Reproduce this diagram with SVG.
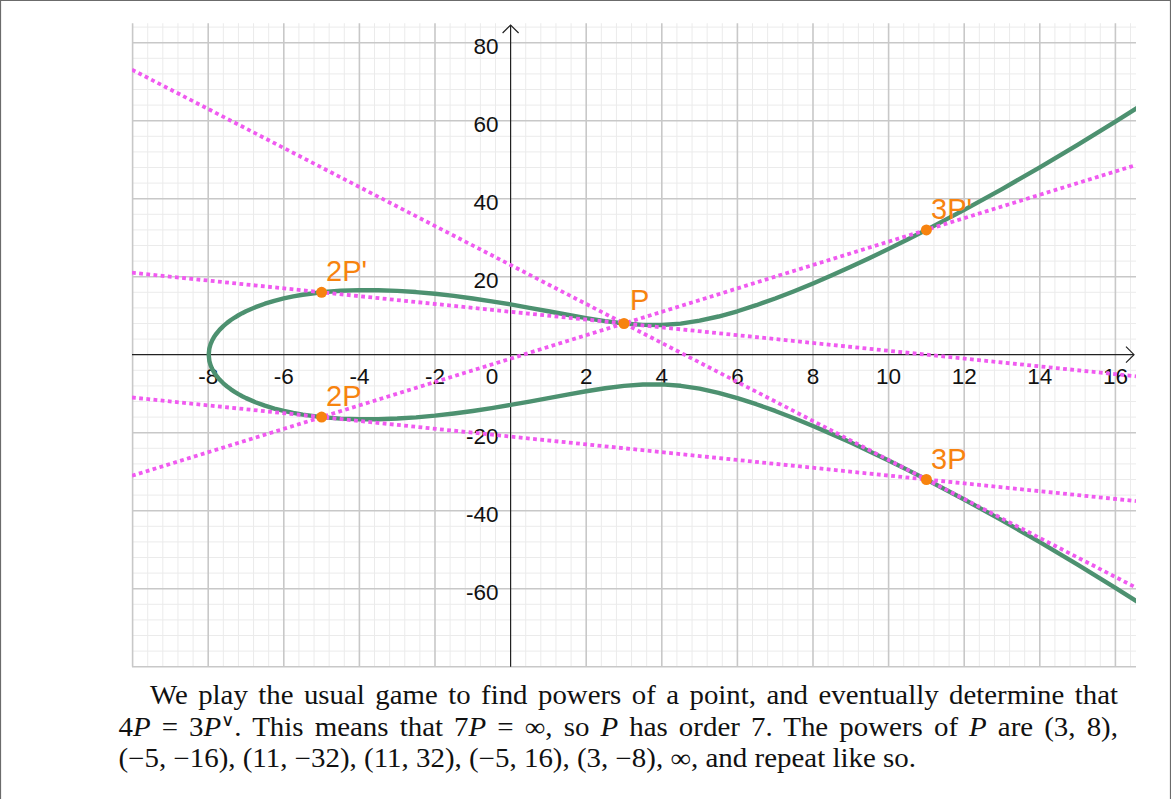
<svg xmlns="http://www.w3.org/2000/svg" width="1171" height="799" viewBox="0 0 1171 799">
<style>
.minor{stroke:#EBEBEB;stroke-width:1;fill:none}
.major{stroke:#C8C8C8;stroke-width:1.6;fill:none}
.axis{stroke:#222;stroke-width:1.2;fill:none}
.tick{font-family:"Liberation Sans",Arial,sans-serif;font-size:22.5px;fill:#111}
.tx{text-anchor:middle}
.ty{text-anchor:end}
.curve{stroke:#4D9170;stroke-width:4.4;fill:none;stroke-linejoin:round;stroke-linecap:round}
.dot{stroke:#F05AF0;stroke-width:3.8;stroke-dasharray:3.8 3.4;fill:none}
.pt{fill:#F7830F}
.plab{font-family:"Liberation Sans",Arial,sans-serif;font-size:29px;fill:#F7830F}
.body{font-family:"Liberation Serif","Times New Roman",serif;font-size:26.5px;fill:#111}
.it{font-style:italic}
</style>
<defs>
<clipPath id="plot"><rect x="132" y="23" width="1004" height="644"/></clipPath>
</defs>
<rect x="0" y="0" width="1171" height="799" fill="#fff"/>
<path d="M0.5 799 V0.5 H1170.5 V799" stroke="#6b6b6b" stroke-width="1.2" fill="none"/>
<g id="grid">
<path class="minor" d="M147.72 23.2V666.7M162.84 23.2V666.7M177.96 23.2V666.7M193.08 23.2V666.7M223.32 23.2V666.7M238.44 23.2V666.7M253.56 23.2V666.7M268.68 23.2V666.7M298.92 23.2V666.7M314.04 23.2V666.7M329.16 23.2V666.7M344.28 23.2V666.7M374.52 23.2V666.7M389.64 23.2V666.7M404.76 23.2V666.7M419.88 23.2V666.7M450.12 23.2V666.7M465.24 23.2V666.7M480.36 23.2V666.7M495.48 23.2V666.7M525.72 23.2V666.7M540.84 23.2V666.7M555.96 23.2V666.7M571.08 23.2V666.7M601.32 23.2V666.7M616.44 23.2V666.7M631.56 23.2V666.7M646.68 23.2V666.7M676.92 23.2V666.7M692.04 23.2V666.7M707.16 23.2V666.7M722.28 23.2V666.7M752.52 23.2V666.7M767.64 23.2V666.7M782.76 23.2V666.7M797.88 23.2V666.7M828.12 23.2V666.7M843.24 23.2V666.7M858.36 23.2V666.7M873.48 23.2V666.7M903.72 23.2V666.7M918.84 23.2V666.7M933.96 23.2V666.7M949.08 23.2V666.7M979.32 23.2V666.7M994.44 23.2V666.7M1009.56 23.2V666.7M1024.68 23.2V666.7M1054.92 23.2V666.7M1070.04 23.2V666.7M1085.16 23.2V666.7M1100.28 23.2V666.7M1130.52 23.2V666.7
M132 27.1H1136M132 58.3H1136M132 73.9H1136M132 89.5H1136M132 105.1H1136M132 136.3H1136M132 151.9H1136M132 167.5H1136M132 183.1H1136M132 214.3H1136M132 229.9H1136M132 245.5H1136M132 261.1H1136M132 292.3H1136M132 307.9H1136M132 323.5H1136M132 339.1H1136M132 370.3H1136M132 385.9H1136M132 401.5H1136M132 417.1H1136M132 448.3H1136M132 463.9H1136M132 479.5H1136M132 495.1H1136M132 526.3H1136M132 541.9H1136M132 557.5H1136M132 573.1H1136M132 604.3H1136M132 619.9H1136M132 635.5H1136M132 651.1H1136"/>
<path class="major" d="M132.6 23.2V666.7M208.2 23.2V666.7M283.8 23.2V666.7M359.4 23.2V666.7M435 23.2V666.7M586.2 23.2V666.7M661.8 23.2V666.7M737.4 23.2V666.7M813 23.2V666.7M888.6 23.2V666.7M964.2 23.2V666.7M1039.8 23.2V666.7M1115.4 23.2V666.7
M132 42.7H1136M132 120.7H1136M132 198.7H1136M132 276.7H1136M132 432.7H1136M132 510.7H1136M132 588.7H1136M132 666.7H1136"/>
</g>
<g id="axes">
<path class="axis" d="M132 354.7H1134M510.6 666.7V25"/>
<path class="axis" d="M1126 346.7L1134 354.7L1126 362.7M502.6 33L510.6 25L518.6 33"/>
<g class="tick tx">
<text x="208.2" y="383.5">-8</text><text x="283.8" y="383.5">-6</text><text x="359.4" y="383.5">-4</text><text x="435" y="383.5">-2</text><text x="492" y="383.5">0</text><text x="586.2" y="383.5">2</text><text x="661.8" y="383.5">4</text><text x="737.4" y="383.5">6</text><text x="813" y="383.5">8</text><text x="888.6" y="383.5">10</text><text x="964.2" y="383.5">12</text><text x="1039.8" y="383.5">14</text><text x="1115.4" y="383.5">16</text>
</g>
<g class="tick ty">
<text x="498.5" y="53.5">80</text><text x="498.5" y="131.5">60</text><text x="498.5" y="209.5">40</text><text x="498.5" y="287.5">20</text><text x="498.5" y="443.5">-20</text><text x="498.5" y="521.5">-40</text><text x="498.5" y="599.5">-60</text>
</g>
</g>
<g id="curve" clip-path="url(#plot)">
<polyline class="curve" vector-effect="non-scaling-stroke" transform="matrix(37.8 0 0 -3.9 510.6 354.7)" points="16.6,63.455 16,59.783 15,53.815 14,48.042 13,42.474 12,37.121 11,32 10.5,29.532 10,27.129 9.5,24.797 9,22.539 8.5,20.362 8,18.276 7.5,16.290 7,14.422 6.5,12.693 6,11.136 5.5,9.792 5,8.718 4.5,7.977 4,7.616 3.5,7.640 3,8 2.5,8.610 2,9.381 1.5,10.241 1,11.136 0.5,12.026 0,12.884 -0.5,13.689 -1,14.422 -1.5,15.071 -2,15.620 -2.5,16.059 -3,16.371 -3.5,16.542 -4,16.553 -4.5,16.382 -5,16 -5.5,15.366 -5.75,14.938 -6,14.422 -6.25,13.806 -6.5,13.072 -6.75,12.194 -7,11.136 -7.1,10.648 -7.2,10.117 -7.3,9.533 -7.4,8.887 -7.5,8.162 -7.6,7.337 -7.7,6.369 -7.8,5.181 -7.85,4.451 -7.9,3.558 -7.94,2.616 -7.97,1.565 -7.9866,0 -7.97,-1.565 -7.94,-2.616 -7.9,-3.558 -7.85,-4.451 -7.8,-5.181 -7.7,-6.369 -7.6,-7.337 -7.5,-8.162 -7.4,-8.887 -7.3,-9.533 -7.2,-10.117 -7.1,-10.648 -7,-11.136 -6.75,-12.194 -6.5,-13.072 -6.25,-13.806 -6,-14.422 -5.75,-14.938 -5.5,-15.366 -5,-16 -4.5,-16.382 -4,-16.553 -3.5,-16.542 -3,-16.371 -2.5,-16.059 -2,-15.620 -1.5,-15.071 -1,-14.422 -0.5,-13.689 0,-12.884 0.5,-12.026 1,-11.136 1.5,-10.241 2,-9.381 2.5,-8.610 3,-8 3.5,-7.640 4,-7.616 4.5,-7.977 5,-8.718 5.5,-9.792 6,-11.136 6.5,-12.693 7,-14.422 7.5,-16.290 8,-18.276 8.5,-20.362 9,-22.539 9.5,-24.797 10,-27.129 10.5,-29.532 11,-32 12,-37.121 13,-42.474 14,-48.042 15,-53.815 16,-59.783 16.6,-63.455"/>
</g>
<g id="connectors" clip-path="url(#plot)">
<line class="dot" x1="132" y1="272.7" x2="1136" y2="376.3"/>
<line class="dot" x1="132" y1="475.8" x2="1136" y2="165.0"/>
<line class="dot" x1="132" y1="69.7" x2="1136" y2="587.6"/>
<line class="dot" x1="132" y1="397.5" x2="1136" y2="501.1"/>
</g>
<g id="P"><circle class="pt" cx="624" cy="323.5" r="5.5"/><text class="plab" x="630" y="310">P</text></g>
<g id="P2"><circle class="pt" cx="321.6" cy="417.1" r="5.5"/><text class="plab" x="326" y="405.5">2P</text></g>
<g id="P2prime"><circle class="pt" cx="321.6" cy="292.3" r="5.5"/><text class="plab" x="326" y="281">2P'</text></g>
<g id="P3"><circle class="pt" cx="926.4" cy="479.5" r="5.5"/><text class="plab" x="931" y="468.5">3P</text></g>
<g id="P3prime"><circle class="pt" cx="926.4" cy="229.9" r="5.5"/><text class="plab" x="931" y="218.5">3P'</text></g>
<g id="caption" class="body">
<text x="150" y="704" textLength="968" lengthAdjust="spacingAndGlyphs" word-spacing="3">We play the usual game to find powers of a point, and eventually determine that</text>
<text x="118.5" y="735.5" textLength="999.5" lengthAdjust="spacingAndGlyphs" word-spacing="3.5">4<tspan class="it">P</tspan> = 3<tspan class="it">P</tspan><tspan font-size="17" dy="-10">∨</tspan><tspan dy="10">.</tspan> This means that 7<tspan class="it">P</tspan> = ∞, so <tspan class="it">P</tspan> has order 7. The powers of <tspan class="it">P</tspan> are (3, 8),</text>
<text x="118.5" y="767" textLength="797.5" lengthAdjust="spacingAndGlyphs">(−5, −16), (11, −32), (11, 32), (−5, 16), (3, −8), ∞, and repeat like so.</text>
</g>
</svg>
